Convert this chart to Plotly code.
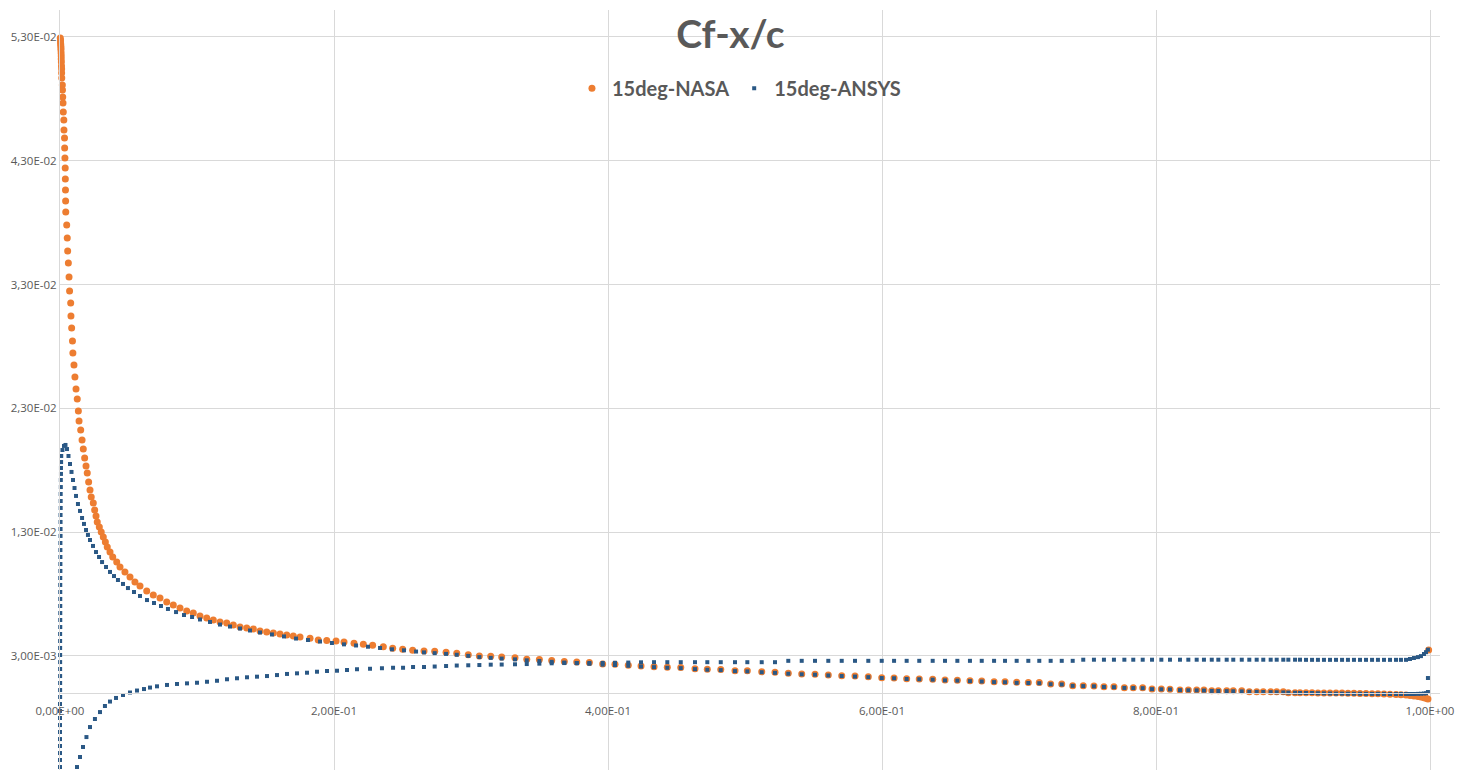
import plotly.graph_objects as go

# ---------------- data ----------------
# NASA Cf, leading-edge / forward part (x/c < 0.265)
nasa_head_x = [0.0002, 0.0004, 0.0004, 0.0005, 0.0006, 0.0007, 0.0007, 0.0008, 0.0009, 0.0009,
               0.0010, 0.0011, 0.0012, 0.0012, 0.0013, 0.0017, 0.0018, 0.0020, 0.0022, 0.0024,
               0.0028, 0.0029, 0.0033, 0.0034, 0.0036, 0.0038, 0.0039, 0.0040, 0.0041, 0.0042,
               0.0049, 0.0053, 0.0056, 0.0061, 0.0066, 0.0070, 0.0078, 0.0080, 0.0085, 0.0091,
               0.0094, 0.0102, 0.0109, 0.0117, 0.0126, 0.0134, 0.0139, 0.0151, 0.0161, 0.0170,
               0.0180, 0.0190, 0.0199, 0.0209, 0.0219, 0.0228, 0.0243, 0.0253, 0.0263, 0.0272,
               0.0287, 0.0301, 0.0316, 0.0331, 0.0345, 0.0365, 0.0385, 0.0414, 0.0438, 0.0474,
               0.0511, 0.0547, 0.0584, 0.0633, 0.0681, 0.0730, 0.0779, 0.0827, 0.0876, 0.0925,
               0.0973, 0.1022, 0.1071, 0.1119, 0.1168, 0.1217, 0.1265, 0.1314, 0.1363, 0.1411,
               0.1460, 0.1509, 0.1557, 0.1606, 0.1655, 0.1703, 0.1752, 0.1825, 0.1885, 0.1947,
               0.2015, 0.2073, 0.2146, 0.2214, 0.2282, 0.2360, 0.2428, 0.2501, 0.2574]
nasa_head_y = [0.05292, 0.05276, 0.05260, 0.05244, 0.05228, 0.05211, 0.05195, 0.05171, 0.05147, 0.05122,
               0.05098, 0.05066, 0.05042, 0.05009, 0.04969, 0.04912, 0.04872, 0.04815, 0.04767, 0.04694,
               0.04630, 0.04549, 0.04484, 0.04404, 0.04323, 0.04242, 0.04153, 0.04064, 0.03975, 0.03886,
               0.03781, 0.03676, 0.03571, 0.03474, 0.03361, 0.03248, 0.03151, 0.03046, 0.02949, 0.02844,
               0.02747, 0.02650, 0.02553, 0.02456, 0.02375, 0.02278, 0.02198, 0.02125, 0.02044, 0.01971,
               0.01899, 0.01834, 0.01778, 0.01705, 0.01640, 0.01584, 0.01535, 0.01479, 0.01430, 0.01382,
               0.01341, 0.01301, 0.01260, 0.01220, 0.01180, 0.01139, 0.01099, 0.01058, 0.01018, 0.00978,
               0.00937, 0.00897, 0.00865, 0.00824, 0.00792, 0.00768, 0.00735, 0.00711, 0.00687, 0.00663,
               0.00646, 0.00622, 0.00606, 0.00590, 0.00574, 0.00566, 0.00549, 0.00533, 0.00525, 0.00517,
               0.00501, 0.00493, 0.00485, 0.00477, 0.00469, 0.00461, 0.00452, 0.00442, 0.00428, 0.00424,
               0.00420, 0.00412, 0.00402, 0.00393, 0.00385, 0.00374, 0.00361, 0.00353, 0.00345]

# common x/c stations of the rear part (shared by both data sets)
x_tail = [0.2657, 0.2735, 0.2818, 0.2896, 0.2980, 0.3061, 0.3144, 0.3224, 0.3321, 0.3407,
          0.3499, 0.3589, 0.3681, 0.3772, 0.3864,
          0.3961, 0.4051, 0.4148, 0.4241, 0.4336, 0.4433, 0.4531, 0.4635, 0.4725, 0.4823,
          0.4927, 0.5017, 0.5122, 0.5219, 0.5316, 0.5414, 0.5511, 0.5608, 0.5706, 0.5803,
          0.5900, 0.5998, 0.6088, 0.6180, 0.6272, 0.6370, 0.6460, 0.6550, 0.6642, 0.6728, 0.6818,
          0.6898, 0.6983, 0.7068, 0.7148, 0.7231, 0.7312, 0.7392, 0.7469, 0.7547, 0.7620,
          0.7693, 0.7769, 0.7834, 0.7903, 0.7971, 0.8039, 0.8102, 0.8175, 0.8236, 0.8297,
          0.8350, 0.8407, 0.8455, 0.8516, 0.8564, 0.8626, 0.8681, 0.8735, 0.8783, 0.8837,
          0.8881, 0.8929, 0.8966, 0.9015, 0.9051,
          0.9095, 0.9139, 0.9182, 0.9226, 0.9270, 0.9314, 0.9358, 0.9401, 0.9445, 0.9489,
          0.9533, 0.9577, 0.9620, 0.9664, 0.9708, 0.9752, 0.9788, 0.9825, 0.9854, 0.9883,
          0.9912, 0.9934, 0.9956, 0.9971, 0.9985]

nasa_tail_y = [0.00339, 0.00337, 0.00329, 0.00321, 0.00309, 0.00299, 0.00297, 0.00291, 0.00285, 0.00272,
               0.00270, 0.00263, 0.00255, 0.00250, 0.00246,
               0.00234, 0.00232, 0.00224, 0.00218, 0.00213, 0.00208, 0.00206, 0.00196, 0.00192, 0.00190,
               0.00180, 0.00179, 0.00172, 0.00167, 0.00159, 0.00154, 0.00152, 0.00145, 0.00140, 0.00137,
               0.00132, 0.00124, 0.00122, 0.00116, 0.00114, 0.00112, 0.00105, 0.00104, 0.00099, 0.00097, 0.00091,
               0.00090, 0.00086, 0.00085, 0.00084, 0.00073, 0.00072, 0.00059, 0.00058, 0.00057, 0.00051,
               0.00050, 0.00043, 0.00043, 0.00042, 0.00032, 0.00032, 0.00031, 0.00024, 0.00024, 0.00024,
               0.00024, 0.00019, 0.00019, 0.00019, 0.00018, 0.00018, 0.00011, 0.00011, 0.00011, 0.00010,
               0.00010, 0.00010, 0.00003, 0.00003, 0.00003,
               0.00002, 0.00002, 0.00001, 0.00001, 0.00000, 0.00000, 0.00000, -0.00001, -0.00002, -0.00003,
               -0.00004, -0.00005, -0.00006, -0.00008, -0.00010, -0.00012, -0.00014, -0.00017, -0.00020, -0.00024,
               -0.00028, -0.00033, -0.00038, -0.00043, -0.00049]
nasa_te_x = [0.9990]
nasa_te_y = [0.00347]

# ANSYS: stagnation column at the leading edge
ansys_col_x = [0.0000, 0.0000, 0.0000, 0.0000, 0.0000, 0.0000, 0.0000, 0.0000, 0.0000, 0.0000,
               0.0001, 0.0001, 0.0001, 0.0001, 0.0001, 0.0001, 0.0001, 0.0001, 0.0001, 0.0001,
               0.0002, 0.0002, 0.0002, 0.0002, 0.0002, 0.0002, 0.0002, 0.0002, 0.0003, 0.0003,
               0.0003, 0.0003, 0.0003, 0.0004, 0.0004, 0.0004, 0.0004, 0.0005, 0.0005, 0.0005,
               0.0006, 0.0006, 0.0007, 0.0007, 0.0008, 0.0009]
ansys_col_y = [-0.00598, -0.00541, -0.00485, -0.00428, -0.00372, -0.00315, -0.00259, -0.00202, -0.00145, -0.00089,
               -0.00032, 0.00024, 0.00081, 0.00137, 0.00194, 0.00250, 0.00307, 0.00364, 0.00420, 0.00477,
               0.00533, 0.00590, 0.00646, 0.00703, 0.00760, 0.00816, 0.00873, 0.00929, 0.00986, 0.01042,
               0.01099, 0.01155, 0.01212, 0.01269, 0.01325, 0.01382, 0.01438, 0.01495, 0.01551, 0.01608,
               0.01664, 0.01721, 0.01770, 0.01818, 0.01866, 0.01915]

# ANSYS: suction side, peak and decay (x/c < 0.265)
ansys_up_x = [0.0018, 0.0029, 0.0040, 0.0051, 0.0062, 0.0073, 0.0084, 0.0095, 0.0106, 0.0117,
              0.0131, 0.0146, 0.0161, 0.0175, 0.0190, 0.0204, 0.0219, 0.0241, 0.0263, 0.0285,
              0.0307, 0.0336, 0.0365, 0.0394, 0.0423, 0.0460, 0.0496, 0.0540, 0.0584, 0.0635,
              0.0686, 0.0737, 0.0788, 0.0847, 0.0905, 0.0964, 0.1022, 0.1095, 0.1168, 0.1241,
              0.1314, 0.1387, 0.1460, 0.1547, 0.1635, 0.1723, 0.1810, 0.1898, 0.1985, 0.2073,
              0.2161, 0.2248, 0.2336, 0.2423, 0.2511, 0.2599]
ansys_up_y = [0.01963, 0.01996, 0.02004, 0.01971, 0.01915, 0.01850, 0.01786, 0.01721, 0.01656, 0.01592,
              0.01527, 0.01471, 0.01414, 0.01366, 0.01317, 0.01277, 0.01236, 0.01188, 0.01139, 0.01099,
              0.01058, 0.01018, 0.00978, 0.00945, 0.00913, 0.00881, 0.00848, 0.00816, 0.00784, 0.00751,
              0.00727, 0.00703, 0.00679, 0.00654, 0.00630, 0.00614, 0.00594, 0.00574, 0.00553, 0.00537,
              0.00521, 0.00505, 0.00489, 0.00473, 0.00457, 0.00440, 0.00428, 0.00416, 0.00404, 0.00393,
              0.00384, 0.00374, 0.00364, 0.00353, 0.00345, 0.00335]
ansys_up_tail_y = [0.00328, 0.00322, 0.00316, 0.00309, 0.00300, 0.00290, 0.00284, 0.00278, 0.00272, 0.00264,
                   0.00259, 0.00252, 0.00246, 0.00241, 0.00236,
                   0.00229, 0.00226, 0.00220, 0.00214, 0.00209, 0.00204, 0.00201, 0.00193, 0.00188, 0.00185,
                   0.00177, 0.00175, 0.00168, 0.00163, 0.00156, 0.00151, 0.00148, 0.00142, 0.00137, 0.00133,
                   0.00128, 0.00121, 0.00119, 0.00113, 0.00111, 0.00108, 0.00102, 0.00100, 0.00096, 0.00093, 0.00088,
                   0.00087, 0.00082, 0.00081, 0.00079, 0.00071, 0.00069, 0.00058, 0.00056, 0.00054, 0.00049,
                   0.00047, 0.00041, 0.00040, 0.00039, 0.00031, 0.00030, 0.00029, 0.00023, 0.00022, 0.00021,
                   0.00020, 0.00017, 0.00016, 0.00015, 0.00014, 0.00013, 0.00010, 0.00009, 0.00008, 0.00007,
                   0.00006, 0.00005, 0.00003, 0.00002, 0.00001,
                   0.00000, 0.00000, -0.00002, -0.00003, -0.00004, -0.00005, -0.00005, -0.00006, -0.00006, -0.00006,
                   -0.00007, -0.00007, -0.00007, -0.00007, -0.00008, -0.00008, -0.00008, -0.00008, -0.00008, -0.00008,
                   -0.00007, -0.00006, -0.00004, -0.00002, 0.00008]

# ANSYS: pressure side (negative near the leading edge)
ansys_lo_x = [0.0124, 0.0146, 0.0168, 0.0193, 0.0219, 0.0255, 0.0292, 0.0328, 0.0365, 0.0409,
              0.0460, 0.0511, 0.0562, 0.0613, 0.0657, 0.0708, 0.0781, 0.0854, 0.0927, 0.1000,
              0.1073, 0.1146, 0.1219, 0.1292, 0.1365, 0.1438, 0.1511, 0.1584, 0.1657, 0.1730,
              0.1803, 0.1876, 0.1949, 0.2022, 0.2095, 0.2168, 0.2263, 0.2350, 0.2431, 0.2504, 0.2577]
ansys_lo_y = [-0.00598, -0.00517, -0.00436, -0.00356, -0.00275, -0.00210, -0.00154, -0.00105, -0.00069, -0.00040,
              -0.00016, 0.00004, 0.00020, 0.00032, 0.00044, 0.00054, 0.00065, 0.00073, 0.00078, 0.00083,
              0.00091, 0.00099, 0.00111, 0.00119, 0.00127, 0.00132, 0.00137, 0.00145, 0.00154, 0.00159,
              0.00164, 0.00172, 0.00178, 0.00180, 0.00186, 0.00192, 0.00196, 0.00200, 0.00204, 0.00204, 0.00210]
ansys_lo_tail_y = [0.00210, 0.00214, 0.00218, 0.00222, 0.00224, 0.00226, 0.00229, 0.00230, 0.00232, 0.00234,
                   0.00237, 0.00240, 0.00242, 0.00242, 0.00243,
                   0.00243, 0.00244, 0.00246, 0.00248, 0.00249, 0.00249, 0.00249, 0.00249, 0.00249, 0.00249,
                   0.00249, 0.00249, 0.00249, 0.00249, 0.00260, 0.00260, 0.00260, 0.00260, 0.00260, 0.00260,
                   0.00260, 0.00260, 0.00260, 0.00260, 0.00260, 0.00260, 0.00260, 0.00260, 0.00260, 0.00260, 0.00260,
                   0.00260, 0.00260, 0.00260, 0.00260, 0.00260, 0.00260, 0.00260, 0.00269, 0.00269, 0.00269,
                   0.00269, 0.00269, 0.00269, 0.00269, 0.00269, 0.00269, 0.00269, 0.00269, 0.00269, 0.00269,
                   0.00269, 0.00269, 0.00269, 0.00269, 0.00269, 0.00269, 0.00269, 0.00269, 0.00269, 0.00269,
                   0.00269, 0.00269, 0.00269, 0.00269, 0.00269,
                   0.00268, 0.00268, 0.00268, 0.00268, 0.00268, 0.00268, 0.00268, 0.00268, 0.00268, 0.00268,
                   0.00268, 0.00268, 0.00268, 0.00268, 0.00268, 0.00268, 0.00268, 0.00268, 0.00275, 0.00283,
                   0.00290, 0.00298, 0.00315, 0.00330, 0.00350]
ansys_te_x = [0.9985]
ansys_te_y = [0.00121]

x_ticks = [0.0, 0.2, 0.4, 0.6, 0.8, 1.0]
x_tick_text = ["0,00E+00", "2,00E-01", "4,00E-01", "6,00E-01", "8,00E-01", "1,00E+00"]
y_ticks = [0.003, 0.013, 0.023, 0.033, 0.043, 0.053]
y_tick_text = ["3,00E-03", "1,30E-02", "2,30E-02", "3,30E-02", "4,30E-02", "5,30E-02"]

assert len(nasa_head_x) == len(nasa_head_y)
assert len(x_tail) == len(nasa_tail_y) == len(ansys_up_tail_y) == len(ansys_lo_tail_y)
assert len(ansys_col_x) == len(ansys_col_y)
assert len(ansys_up_x) == len(ansys_up_y)
assert len(ansys_lo_x) == len(ansys_lo_y)

# ---------------- figure ----------------
nasa_x = nasa_head_x + x_tail + nasa_te_x
nasa_y = nasa_head_y + nasa_tail_y + nasa_te_y
ansys_x = ansys_col_x + ansys_up_x + x_tail + ansys_lo_x + x_tail + ansys_te_x
ansys_y = ansys_col_y + ansys_up_y + ansys_up_tail_y + ansys_lo_y + ansys_lo_tail_y + ansys_te_y

ORANGE = "#ED7D31"
BLUE = "#2A5885"
GREY_TXT = "#595959"
GRID = "#D9D9D9"
FONT = "Lato, Carlito, Calibri, 'Open Sans', sans-serif"
TICK_FONT = "Open Sans"

fig = go.Figure()
fig.add_trace(go.Scatter(
    x=nasa_x, y=nasa_y, mode="markers", name="<b>15deg-NASA</b>",
    marker=dict(color=ORANGE, size=7, symbol="circle", line=dict(width=0)),
    cliponaxis=False,
))
fig.add_trace(go.Scatter(
    x=ansys_x, y=ansys_y, mode="markers", name="<b>15deg-ANSYS</b>",
    marker=dict(color=BLUE, size=4, symbol="square", line=dict(width=0)),
    cliponaxis=False,
))

y_min, y_max = -0.00622, 0.05518
zero_pos = (0 - y_min) / (y_max - y_min)

fig.update_layout(
    width=1466, height=772,
    margin=dict(l=60, r=26, t=10, b=2),
    paper_bgcolor="white", plot_bgcolor="white",
    font=dict(family=FONT, color=GREY_TXT),
    title=dict(text="<b>Cf-x/c</b>", x=0.4983, xanchor="center", y=0.955, yanchor="middle",
               xref="container", yref="container",
               font=dict(family=FONT, size=39, color=GREY_TXT)),
    showlegend=True,
    legend=dict(orientation="h", x=0.492, xanchor="center", y=0.897, yanchor="middle",
                bgcolor="rgba(0,0,0,0)", font=dict(family=FONT, size=20, color=GREY_TXT),
                itemsizing="trace"),
    xaxis=dict(range=[0, 1.0073], tickvals=x_ticks, ticktext=x_tick_text,
               showgrid=True, gridcolor=GRID, gridwidth=1, zeroline=False,
               showline=True, linecolor=GRID, linewidth=1,
               anchor="free", position=zero_pos, ticks="",
               ticklabelstandoff=7,
               tickfont=dict(family=TICK_FONT, size=11.5, color=GREY_TXT)),
    yaxis=dict(range=[y_min, y_max], tickvals=y_ticks, ticktext=y_tick_text,
               showgrid=True, gridcolor=GRID, gridwidth=1, zeroline=False,
               showline=True, linecolor=GRID, linewidth=1, ticks="",
               ticklabelstandoff=0,
               tickfont=dict(family=TICK_FONT, size=11.5, color=GREY_TXT)),
)

fig.write_html("out.html")
